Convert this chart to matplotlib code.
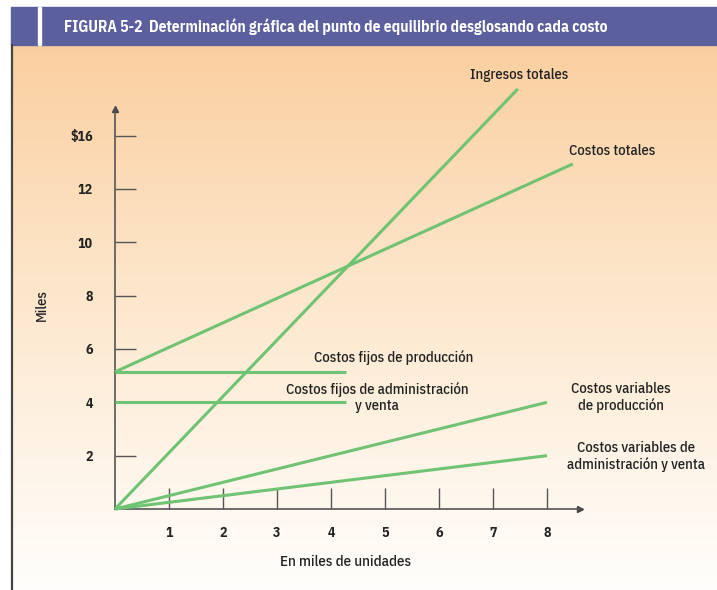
import numpy as np
import matplotlib
matplotlib.use("Agg")
import matplotlib.pyplot as plt
from matplotlib.patches import Rectangle

# ---- data (thousands of units on x, axis units on y) ----
x_ticks = [1, 2, 3, 4, 5, 6, 7, 8]
y_tick_pos = [2, 4, 6, 8, 10, 12, 14]
y_tick_labels = ["2", "4", "6", "8", "10", "12", "$16"]

ingresos_x = [0, 7.46]
ingresos_y = [0, 15.75]
costos_tot_x = [0, 8.48]
costos_tot_y = [5.14, 12.94]
fijos_prod_x = [0, 4.28]
fijos_prod_y = [5.14, 5.14]
fijos_adm_x = [0, 4.28]
fijos_adm_y = [4.0, 4.0]
var_prod_x = [0, 8]
var_prod_y = [0, 4.0]
var_adm_x = [0, 8]
var_adm_y = [0, 2.0]

W, H = 717, 590
FONT = ["IBM Plex Sans Condensed", "DejaVu Sans"]
plt.rcParams["font.family"] = FONT

fig = plt.figure(figsize=(W / 100, H / 100), dpi=100)
fig.patch.set_facecolor("white")

# ---- background panel with vertical peach-to-white gradient ----
bg = fig.add_axes([0, 0, 1, 1])
bg.set_xlim(0, W)
bg.set_ylim(H, 0)
bg.axis("off")
top = np.array([250, 207, 160]) / 255
mid = np.array([253, 233, 208]) / 255
bot = np.array([255, 254, 252]) / 255
t = np.linspace(0, 1, 256)[:, None]
grad = np.where(t < 0.5,
                top + (mid - top) * (t / 0.5),
                mid + (bot - mid) * ((t - 0.5) / 0.5))
grad = np.clip(grad, 0, 1)[:, None, :]
bg.imshow(grad, extent=[12, W, 590, 45], aspect="auto", interpolation="bilinear", zorder=0)
# title bar
bg.add_patch(Rectangle((11, 7), W - 11, 38, color="#5b5f9d", zorder=1))
bg.add_patch(Rectangle((37.5, 7), 3.5, 38, color="white", zorder=2))
bg.text(64, 26.5, "FIGURA 5-2  Determinación gráfica del punto de equilibrio desglosando cada costo",
        color="white", fontsize=11.2, fontweight="bold", va="center", ha="left", zorder=3)
# left border line
bg.plot([12, 12], [45, 590], color="#444444", lw=1.6, zorder=3)

# ---- chart axes ----
px_per_x = 54.0
px_per_y = 26.67
xmax, ymax = 8.62, 15.0
ax = fig.add_axes([115 / W, 81 / H, xmax * px_per_x / W, ymax * px_per_y / H])
ax.set_facecolor("none")
ax.set_xlim(0, xmax)
ax.set_ylim(0, ymax)
for s in ["top", "right"]:
    ax.spines[s].set_visible(False)
for s in ["left", "bottom"]:
    ax.spines[s].set_color("#555555")
    ax.spines[s].set_linewidth(1.2)
ax.plot(1, 0, ">", transform=ax.transAxes, color="#444444", ms=4, clip_on=False)
ax.plot(0, 1, "^", transform=ax.transAxes, color="#444444", ms=4, clip_on=False)

ax.set_xticks(x_ticks)
ax.set_xticklabels([str(v) for v in x_ticks])
ax.set_yticks(y_tick_pos)
ax.set_yticklabels(y_tick_labels)
ax.tick_params(axis="x", direction="in", length=15, width=1.0, color="#555555",
               pad=12, labelsize=10, labelcolor="#222222")
ax.tick_params(axis="y", direction="in", length=15, width=1.0, color="#555555",
               pad=16, labelsize=10, labelcolor="#222222")
for lab in ax.get_xticklabels() + ax.get_yticklabels():
    lab.set_fontweight("bold")

green = "#6fc372"
lw = 2.2
for xs, ys in [(ingresos_x, ingresos_y), (costos_tot_x, costos_tot_y),
               (fijos_prod_x, fijos_prod_y), (fijos_adm_x, fijos_adm_y),
               (var_prod_x, var_prod_y), (var_adm_x, var_adm_y)]:
    ax.plot(xs, ys, color=green, lw=lw, solid_capstyle="butt", clip_on=False, zorder=3)

ax.set_xlabel("En miles de unidades", fontsize=10.8, color="#222222", fontweight="medium")
ax.set_ylabel("Miles", fontsize=10.5, color="#222222", fontweight="medium")
ax.xaxis.set_label_coords(0.496, -0.115)
ax.yaxis.set_label_coords(-0.142, 0.51)

# ---- line labels ----
def lbl(x, y, s, **kw):
    ax.text(x, y, s, fontsize=10.5, color="#222222", ha="center", va="center",
            fontweight="medium", linespacing=1.15, **kw)

lbl(7.48, 16.27, "Ingresos totales")
lbl(9.20, 13.42, "Costos totales")
lbl(5.16, 5.69, "Costos fijos de producción")
lbl(4.85, 4.17, "Costos fijos de administración\ny venta")
lbl(9.37, 4.17, "Costos variables\nde producción")
lbl(9.65, 1.98, "Costos variables de\nadministración y venta")

fig.savefig("out.png", dpi=100)
